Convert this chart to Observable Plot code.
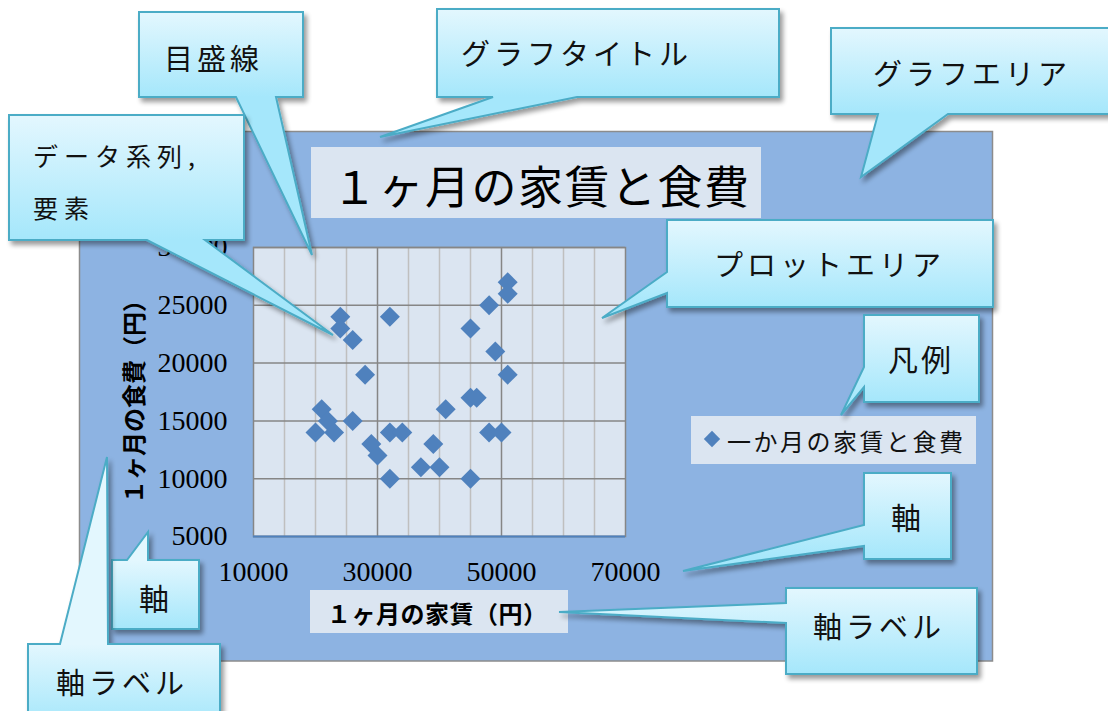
<!DOCTYPE html>
<html><head><meta charset="utf-8">
<script src="https://cdn.jsdelivr.net/npm/d3@7"></script>
<script src="https://cdn.jsdelivr.net/npm/@observablehq/plot@0.6"></script>
<style>
html,body{margin:0;padding:0;background:#fff;}
#chart{position:relative;width:1108px;height:711px;overflow:hidden;}
</style></head><body><div id="chart"></div>
<script>
// ---- data ----
const rent = [24000,24000,26000,32000,28000,45000,48000,51000,51000,49000,51000,45000,46000,41000,21000,22000,20000,23000,26000,32000,34000,29000,30000,32000,39000,37000,40000,45000,48000,50000];
const food = [24000,23000,22000,24000,19000,23000,25000,27000,26000,21000,19000,17000,17000,16000,16000,15000,14000,14000,15000,14000,14000,13000,12000,10000,13000,11000,11000,10000,14000,14000];
const xTicks = [10000,30000,50000,70000];
const xMajorGrid = [30000,50000];
const xMinorGrid = [15000,20000,25000,35000,40000,45000,55000,60000,65000];
const yTicks = [5000,10000,15000,20000,25000,30000];
const titleText = "１ヶ月の家賃と食費";
const xLabel = "１ヶ月の家賃（円）";
const yLabel = "１ヶ月の食費（円）";
const seriesName = "一か月の家賃と食費";
const calloutTexts = [["目盛線"],["グラフタイトル"],["グラフエリア"],["データ系列,","要素"],["プロットエリア"],["凡例"],["軸"],["軸ラベル"],["軸"],["軸ラベル"]];

// ---- layout (pixels) ----
const calloutLayout = [
 {box:[139,12,303,97], side:"bottom", base:[236,276], tip:[312,255], tx:164, ty:[57], fs:29, ls:4},
 {box:[437,9,779,97], side:"bottom", base:[493,577], tip:[380,137], tx:461, ty:[52], fs:29, ls:4},
 {box:[831,28,1120,114], side:"bottom", base:[878,948], tip:[861,177], tx:873, ty:[72], fs:29, ls:4},
 {box:[9,115,244,240], side:"bottom", base:[147,205], tip:[333,335], tx:33, ty:[155,207], fs:25, ls:6},
 {box:[667,220,993,307], side:"left", base:[272,293], tip:[602,318], tx:714, ty:[263], fs:29, ls:4},
 {box:[864,315,979,402], side:"left", base:[367,387], tip:[841,415], tx:888, ty:[358], fs:30, ls:3},
 {box:[864,473,951,559], side:"left", base:[525,546], tip:[683,571], tx:891, ty:[516], fs:30, ls:0},
 {box:[786,588,977,674], side:"left", base:[603,623], tip:[559,612], tx:813, ty:[625], fs:29, ls:4},
 {box:[112,560,199,629], side:"top", base:[127,148], tip:[148,532], tx:139, ty:[597], fs:30, ls:0},
 {box:[28,644,220,725], side:"top", base:[60,108], tip:[107,457], tx:56, ty:[681], fs:29, ls:4}
];
const CJK = "'Noto Sans CJK JP', sans-serif";
const points = rent.map((r,i)=>({rent:r, food:food[i]}));

const plot = Plot.plot({
  width:1108, height:711,
  marginLeft:253, marginRight:483, marginTop:247, marginBottom:175,
  x:{domain:[10000,70000], axis:null},
  y:{domain:[5000,30000], axis:null},
  style:{background:"transparent", overflow:"visible"},
  marks:[
    Plot.frame({fill:"#dbe5f1", stroke:"none"}),
    Plot.ruleX(xMinorGrid,{stroke:"#bfbfbf", strokeWidth:1.5}),
    Plot.ruleX(xMajorGrid,{stroke:"#868686", strokeWidth:1.5}),
    Plot.ruleY(yTicks,{stroke:"#868686", strokeWidth:1.5}),
    Plot.frame({stroke:"#868686", strokeWidth:1.5}),
    Plot.ruleY([5000],{stroke:"#4f81bd", strokeWidth:2}),
    Plot.dot(points,{x:"rent", y:"food", symbol:"diamond2", r:9, fill:"#4f81bd", stroke:"none"}),
    Plot.text(yTicks,{y:d=>d, frameAnchor:"left", textAnchor:"end", dx:-26, text:d=>String(d), fontSize:28, fontFamily:"'Liberation Serif', serif", fill:"#000"}),
    Plot.text(xTicks,{x:d=>d, frameAnchor:"bottom", lineAnchor:"middle", dy:36, text:d=>String(d), fontSize:28, fontFamily:"'Liberation Serif', serif", fill:"#000"})
  ]
});
document.getElementById("chart").appendChild(plot);
const svg = d3.select(plot);

// chart area background
svg.insert("rect", ":first-child").attr("x",79.5).attr("y",131.5).attr("width",913).attr("height",529.5)
  .attr("fill","#8db3e2").attr("stroke","#8c8c8c").attr("stroke-width",1.5);

const g = svg.append("g").attr("text-anchor","start");
// title
g.append("rect").attr("x",311).attr("y",147).attr("width",450).attr("height",71).attr("fill","#dbe5f1");
g.append("text").attr("x",332).attr("y",184).attr("text-anchor","start").attr("dominant-baseline","central").attr("font-family",CJK)
  .attr("font-size",45).attr("letter-spacing",1.5).attr("fill","#000").text(titleText);
// x label
g.append("rect").attr("x",310).attr("y",590).attr("width",258).attr("height",43).attr("fill","#dbe5f1");
g.append("text").attr("x",327).attr("y",612).attr("text-anchor","start").attr("dominant-baseline","central").attr("font-family",CJK)
  .attr("font-size",24).attr("font-weight","bold").attr("letter-spacing",0.5).attr("fill","#000").text(xLabel);
// y label
g.append("text").attr("transform","translate(132,396) rotate(-90)").attr("text-anchor","middle").attr("dominant-baseline","central")
  .attr("font-family",CJK).attr("font-size",24).attr("font-weight","bold").attr("fill","#000").text(yLabel);
// legend
g.append("rect").attr("x",691).attr("y",416).attr("width",285).attr("height",48).attr("fill","#dbe5f1");
g.append("path").attr("transform","translate(712,439)").attr("d",d3.symbol(d3.symbolDiamond2, 170)()).attr("fill","#4f81bd");
g.append("text").attr("x",727).attr("y",440).attr("text-anchor","start").attr("dominant-baseline","central").attr("font-family",CJK)
  .attr("font-size",24).attr("letter-spacing",2.5).attr("fill","#111").text(seriesName);

// callouts
const defs = svg.append("defs");
const f = defs.append("filter").attr("id","shadow").attr("x","-20%").attr("y","-20%").attr("width","140%").attr("height","140%");
f.append("feGaussianBlur").attr("in","SourceAlpha").attr("stdDeviation",2.5).attr("result","b");
f.append("feOffset").attr("in","b").attr("dx",3).attr("dy",4).attr("result","o");
f.append("feComponentTransfer").attr("in","o").attr("result","s").append("feFuncA").attr("type","linear").attr("slope",0.4);
const m = f.append("feMerge"); m.append("feMergeNode").attr("in","s"); m.append("feMergeNode").attr("in","SourceGraphic");

function outline(c){
  const [x0,y0,x1,y1]=c.box, [t0,t1]=c.base, [tx,ty]=c.tip;
  if(c.side==="bottom") return `M${x0},${y0}L${x1},${y0}L${x1},${y1}L${t1},${y1}L${tx},${ty}L${t0},${y1}L${x0},${y1}Z`;
  if(c.side==="top") return `M${x0},${y0}L${t0},${y0}L${tx},${ty}L${t1},${y0}L${x1},${y0}L${x1},${y1}L${x0},${y1}Z`;
  return `M${x0},${y0}L${x1},${y0}L${x1},${y1}L${x0},${y1}L${x0},${t1}L${tx},${ty}L${x0},${t0}Z`;
}
const cg = svg.append("g").attr("text-anchor","start");
calloutLayout.forEach((c,i)=>{
  const id="cg"+i;
  const lg = defs.append("linearGradient").attr("id",id).attr("gradientUnits","userSpaceOnUse")
    .attr("x1",0).attr("x2",0).attr("y1",c.box[1]).attr("y2",c.box[3]);
  lg.append("stop").attr("offset",0).attr("stop-color","#e3f7fe");
  lg.append("stop").attr("offset",1).attr("stop-color","#a5e7fb");
  cg.append("path").attr("d",outline(c)).attr("fill",`url(#${id})`).attr("stroke","#4bacc6").attr("stroke-width",2)
    .attr("stroke-linejoin","miter").attr("filter","url(#shadow)");
  calloutTexts[i].forEach((line,j)=>{
    cg.append("text").attr("x",c.tx).attr("y",c.ty[j]).attr("text-anchor","start").attr("dominant-baseline","central").attr("font-family",CJK)
      .attr("font-size",c.fs).attr("letter-spacing",c.ls).attr("fill","#111").text(line);
  });
});
</script></body></html>
